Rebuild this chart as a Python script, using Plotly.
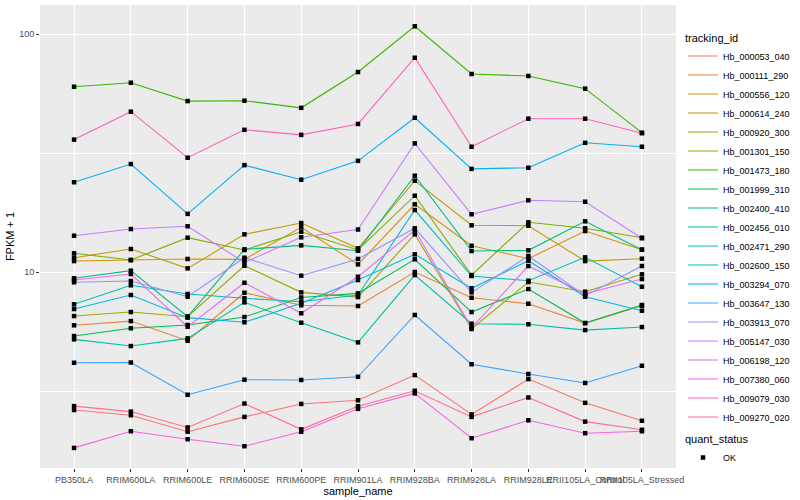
import plotly.graph_objects as go

samples = ["PB350LA", "RRIM600LA", "RRIM600LE", "RRIM600SE", "RRIM600PE", "RRIM901LA",
           "RRIM928BA", "RRIM928LA", "RRIM928LE", "RRII105LA_Control", "RRII105LA_Stressed"]

tracking_ids = ["Hb_000053_040", "Hb_000111_290", "Hb_000556_120", "Hb_000614_240",
                "Hb_000920_300", "Hb_001301_150", "Hb_001473_180", "Hb_001999_310",
                "Hb_002400_410", "Hb_002456_010", "Hb_002471_290", "Hb_002600_150",
                "Hb_003294_070", "Hb_003647_130", "Hb_003913_070", "Hb_005147_030",
                "Hb_006198_120", "Hb_007380_060", "Hb_009079_030", "Hb_009270_020"]

colors = ["#F8766D", "#EA8331", "#D89000", "#C09B00", "#A3A500", "#7CAE00", "#39B600",
          "#00BB4E", "#00BF7D", "#00C1A3", "#00BFC4", "#00BAE0", "#00B0F6", "#35A2FF",
          "#9590FF", "#C77CFF", "#E76BF3", "#FA62DB", "#FF62BC", "#FF6C91"]

# FPKM + 1 values per tracking_id (same order as samples)
Hb_000053_040 = [2.64, 2.51, 2.14, 2.47, 2.80, 2.90, 3.70, 2.53, 3.56, 2.83, 2.38]
Hb_000111_290 = [5.99, 6.24, 5.16, 8.21, 7.27, 7.22, 10.03, 7.82, 7.38, 6.12, 7.24]
Hb_000556_120 = [11.15, 11.26, 11.38, 11.34, 15.46, 10.80, 19.31, 12.93, 11.41, 14.91, 12.45]
Hb_000614_240 = [11.52, 12.53, 10.39, 14.44, 16.11, 12.61, 24.26, 15.76, 15.70, 11.15, 11.41]
Hb_000920_300 = [6.55, 6.81, 6.51, 10.66, 8.24, 7.87, 14.44, 5.78, 9.10, 8.29, 9.81]
Hb_001301_150 = [12.02, 11.26, 13.98, 12.41, 14.81, 12.41, 20.98, 9.74, 16.22, 15.31, 13.98]
Hb_001473_180 = [60.2, 62.6, 52.4, 52.6, 49.1, 69.4, 108.0, 68.1, 66.8, 59.1, 38.6]
Hb_001999_310 = [5.40, 5.82, 6.01, 6.49, 7.84, 8.16, 11.34, 6.81, 8.51, 6.12, 7.29]
Hb_002400_410 = [9.44, 10.16, 6.51, 12.49, 12.98, 12.32, 25.46, 12.29, 12.37, 16.38, 12.45]
Hb_002456_010 = [5.23, 4.90, 5.28, 7.48, 6.14, 5.08, 9.74, 6.08, 6.05, 5.72, 5.89]
Hb_002471_290 = [7.34, 8.82, 8.11, 7.78, 7.52, 8.03, 18.27, 9.65, 9.22, 11.56, 8.70]
Hb_002600_150 = [7.01, 8.03, 6.45, 6.17, 7.41, 9.28, 11.90, 8.57, 11.19, 7.90, 6.90]
Hb_003294_070 = [23.9, 28.5, 17.6, 28.2, 24.5, 29.4, 44.6, 27.2, 27.5, 35.0, 33.7]
Hb_003647_130 = [4.17, 4.18, 3.06, 3.54, 3.53, 3.64, 6.62, 4.11, 3.74, 3.43, 4.05]
Hb_003913_070 = [9.08, 9.19, 7.90, 11.52, 9.68, 11.38, 15.31, 8.24, 11.71, 7.98, 10.63]
Hb_005147_030 = [14.25, 15.20, 15.61, 11.0, 14.03, 15.13, 34.8, 17.53, 20.07, 19.80, 13.9]
Hb_006198_120 = [9.28, 9.84, 5.91, 9.04, 6.73, 9.58, 15.06, 5.85, 10.63, 8.13, 9.37]
Hb_007380_060 = [1.83, 2.15, 1.99, 1.86, 2.14, 2.67, 3.10, 2.01, 2.39, 2.11, 2.15]
Hb_009079_030 = [36.1, 47.3, 30.3, 39.7, 37.8, 42.0, 79.7, 33.7, 44.2, 44.2, 38.4]
Hb_009270_020 = [2.74, 2.60, 2.23, 2.81, 2.19, 2.74, 3.18, 2.47, 2.98, 2.36, 2.18]

series = [Hb_000053_040, Hb_000111_290, Hb_000556_120, Hb_000614_240, Hb_000920_300,
          Hb_001301_150, Hb_001473_180, Hb_001999_310, Hb_002400_410, Hb_002456_010,
          Hb_002471_290, Hb_002600_150, Hb_003294_070, Hb_003647_130, Hb_003913_070,
          Hb_005147_030, Hb_006198_120, Hb_007380_060, Hb_009079_030, Hb_009270_020]

FONT = "Liberation Sans"
fig = go.Figure()
for name, vals, col in zip(tracking_ids, series, colors):
    fig.add_trace(go.Scatter(x=samples, y=vals, mode="lines", name=name,
                             line=dict(color=col, width=1.1), legend="legend"))

all_x, all_y = [], []
for vals in series:
    all_x += samples
    all_y += vals
fig.add_trace(go.Scatter(x=all_x, y=all_y, mode="markers", name="OK",
                         marker=dict(symbol="square", size=4.5, color="black"),
                         legend="legend2"))

fig.update_layout(
    width=800, height=500,
    margin=dict(l=40, r=117, t=5, b=32),
    plot_bgcolor="#EBEBEB", paper_bgcolor="white",
    font=dict(family=FONT, size=9, color="black"),
    xaxis=dict(type="category", categoryorder="array", categoryarray=samples,
               range=[-0.6, 10.6], showgrid=True, gridcolor="white", gridwidth=1.1,
               ticks="outside", ticklen=3, tickcolor="#333333", tickangle=0,
               tickfont=dict(size=9, color="#4D4D4D"), zeroline=False, showline=False,
               automargin=False,
               title=dict(text="sample_name", font=dict(size=11), standoff=3)),
    yaxis=dict(type="log", range=[0.178, 2.123], tickvals=[10, 100], ticktext=["10", "100"],
               showgrid=True, gridcolor="white", gridwidth=1.1,
               minor=dict(tickvals=[10 ** 0.5, 10 ** 1.5], showgrid=True,
                          gridcolor="white", gridwidth=0.5, ticks=""),
               ticks="outside", ticklen=3, tickcolor="#333333",
               tickfont=dict(size=9, color="#4D4D4D"), zeroline=False, showline=False,
               automargin=False,
               title=dict(text="FPKM + 1", font=dict(size=11), standoff=2)),
    legend=dict(title=dict(text="tracking_id", font=dict(size=11)),
                x=1.011, xanchor="left", y=0.952, yanchor="top",
                font=dict(size=9), bgcolor="rgba(0,0,0,0)", itemwidth=30,
                tracegroupgap=0),
    legend2=dict(title=dict(text="quant_status", font=dict(size=11)),
                 x=1.011, xanchor="left", y=0.085, yanchor="top",
                 font=dict(size=9), bgcolor="rgba(0,0,0,0)", itemwidth=30),
    showlegend=True,
)

fig.write_html("out.html", config={"displayModeBar": False},
               post_script="document.body.style.margin='0px';")
